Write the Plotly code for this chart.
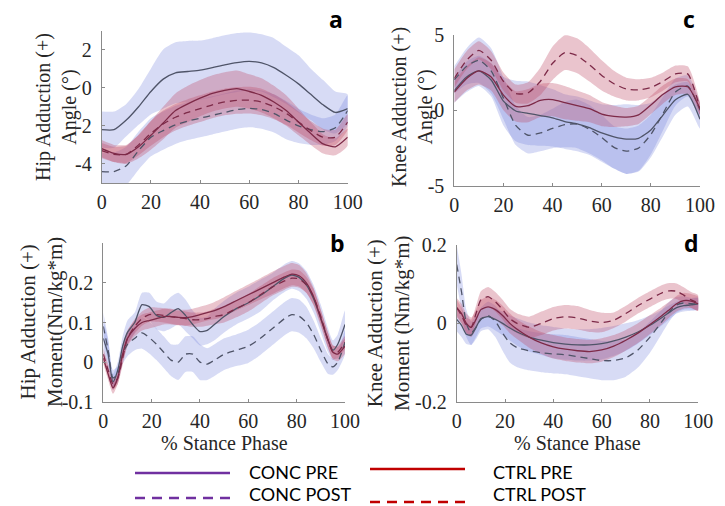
import plotly.graph_objects as go

W, H = 725, 506

# ---------------- data ----------------
# Panel a: hip adduction angle (deg), 0-100 % stance in steps of 5
X_ANG = [0, 5, 10, 15, 20, 25, 30, 35, 40, 45, 50, 55, 60, 65, 70, 75, 80, 85, 90, 95, 100]

HIP_ANG_CONC_PRE = [-2.2, -2.2, -1.7, -1.0, -0.2, 0.45, 0.78, 0.85, 0.92, 1.05, 1.2, 1.32, 1.38, 1.3, 1.05, 0.65, 0.2, -0.35, -0.9, -1.3, -1.1]
HIP_ANG_CONC_PRE_SD = [0.95, 0.95, 0.85, 0.95, 1.2, 1.55, 1.6, 1.6, 1.55, 1.55, 1.55, 1.55, 1.52, 1.5, 1.55, 1.5, 1.5, 1.35, 1.3, 1.1, 0.75]
HIP_ANG_CONC_POST = [-4.4, -4.4, -4.1, -3.3, -2.6, -2.25, -1.95, -1.75, -1.6, -1.45, -1.3, -1.15, -1.08, -1.15, -1.35, -1.7, -2.0, -2.2, -2.3, -2.1, -1.2]
HIP_ANG_CONC_POST_SD = [1.0, 1.0, 1.0, 1.0, 1.0, 1.0, 1.0, 1.0, 1.0, 1.0, 1.0, 1.0, 1.0, 1.0, 1.0, 1.0, 0.9, 0.8, 0.7, 0.7, 0.8]
HIP_ANG_CTRL_PRE = [-3.2, -3.45, -3.5, -3.1, -2.5, -1.85, -1.2, -0.85, -0.55, -0.3, -0.14, -0.05, -0.2, -0.4, -0.75, -1.2, -1.8, -2.4, -2.95, -3.1, -2.6]
HIP_ANG_CTRL_PRE_SD = [0.45, 0.45, 0.5, 0.6, 0.75, 0.85, 0.9, 0.95, 0.95, 0.95, 0.95, 0.95, 0.9, 0.9, 0.85, 0.8, 0.7, 0.6, 0.5, 0.45, 0.45]
HIP_ANG_CTRL_POST = [-3.3, -3.5, -3.5, -3.0, -2.4, -1.9, -1.55, -1.3, -1.1, -0.9, -0.75, -0.67, -0.65, -0.75, -1.0, -1.35, -1.8, -2.25, -2.6, -2.6, -1.8]
HIP_ANG_CTRL_POST_SD = [0.4, 0.4, 0.45, 0.55, 0.65, 0.7, 0.7, 0.7, 0.7, 0.7, 0.7, 0.7, 0.7, 0.7, 0.65, 0.6, 0.55, 0.5, 0.45, 0.4, 0.4]

# Panel c: knee adduction angle (deg)
KNEE_ANG_CONC_PRE = [1.3, 2.2, 2.6, 2.0, 0.6, -0.05, -0.2, -0.35, -0.5, -0.75, -0.9, -1.15, -1.5, -1.75, -1.9, -1.85, -1.3, -0.3, 0.7, 1.05, -0.6]
KNEE_ANG_CONC_PRE_SD = [0.8, 1.0, 1.0, 1.1, 1.6, 2.0, 2.1, 2.0, 1.9, 1.8, 1.8, 1.8, 1.9, 2.1, 2.3, 2.2, 1.8, 1.4, 1.0, 0.8, 0.6]
KNEE_ANG_CONC_POST = [2.0, 2.9, 3.3, 2.6, 0.8, -1.0, -1.65, -1.5, -1.2, -0.95, -0.9, -1.25, -1.8, -2.45, -2.7, -2.5, -1.6, -0.2, 1.2, 1.6, 0.0]
KNEE_ANG_CONC_POST_SD = [0.9, 1.2, 1.5, 1.5, 1.4, 1.3, 1.2, 1.2, 1.3, 1.5, 1.6, 1.6, 1.5, 1.4, 1.5, 1.5, 1.3, 1.1, 0.9, 0.7, 0.5]
KNEE_ANG_CTRL_PRE = [1.2, 2.1, 2.6, 2.2, 1.0, 0.25, 0.3, 0.65, 0.7, 0.5, 0.3, 0.1, -0.25, -0.4, -0.45, -0.3, 0.35, 1.05, 1.55, 1.55, 0.1]
KNEE_ANG_CTRL_PRE_SD = [0.7, 0.8, 0.9, 0.9, 1.0, 1.0, 1.1, 1.1, 1.1, 1.1, 1.0, 0.9, 0.8, 0.7, 0.6, 0.6, 0.6, 0.6, 0.55, 0.5, 0.4]
KNEE_ANG_CTRL_POST = [2.1, 3.3, 3.95, 3.3, 1.9, 1.1, 1.15, 1.9, 3.1, 3.8, 3.6, 3.0, 2.3, 1.75, 1.4, 1.35, 1.5, 1.9, 2.4, 2.4, 0.1]
KNEE_ANG_CTRL_POST_SD = [0.6, 0.6, 0.6, 0.6, 0.6, 0.6, 0.7, 0.9, 1.1, 1.15, 1.15, 1.1, 1.0, 0.85, 0.75, 0.7, 0.65, 0.6, 0.55, 0.5, 0.4]

# Panel b: hip adduction moment (Nm/kg*m)
X_HIP_MOM = [0, 2, 4, 6, 8, 10, 13, 16, 19, 22, 25, 28, 31, 34, 37, 40, 43, 46, 50, 55, 60, 65, 70, 75, 78, 81, 84, 87, 90, 93, 95, 97, 100]

HIP_MOM_CONC_PRE = [0.06, 0.02, -0.05, -0.02, 0.04, 0.075, 0.1, 0.145, 0.14, 0.118, 0.113, 0.125, 0.135, 0.118, 0.095, 0.077, 0.08, 0.095, 0.115, 0.135, 0.15, 0.168, 0.19, 0.212, 0.22, 0.214, 0.195, 0.16, 0.11, 0.055, 0.03, 0.045, 0.095]
HIP_MOM_CONC_PRE_SD = [0.045, 0.035, 0.02, 0.02, 0.025, 0.03, 0.025, 0.03, 0.035, 0.035, 0.035, 0.04, 0.04, 0.04, 0.035, 0.035, 0.035, 0.04, 0.04, 0.04, 0.04, 0.04, 0.035, 0.035, 0.035, 0.035, 0.035, 0.035, 0.035, 0.03, 0.025, 0.025, 0.035]
HIP_MOM_CONC_POST = [0.09, 0.03, -0.04, -0.03, 0.02, 0.045, 0.06, 0.074, 0.062, 0.045, 0.025, 0.005, 0.0, 0.02, 0.02, 0.0, -0.005, 0.005, 0.02, 0.03, 0.04, 0.06, 0.085, 0.11, 0.12, 0.116, 0.1, 0.07, 0.03, -0.005, -0.012, 0.0, 0.05]
HIP_MOM_CONC_POST_SD = [0.035, 0.03, 0.02, 0.02, 0.025, 0.03, 0.03, 0.04, 0.04, 0.04, 0.04, 0.04, 0.045, 0.045, 0.045, 0.045, 0.04, 0.04, 0.04, 0.04, 0.042, 0.042, 0.042, 0.042, 0.042, 0.042, 0.04, 0.035, 0.03, 0.025, 0.02, 0.02, 0.03]
HIP_MOM_CTRL_PRE = [0.01, -0.03, -0.065, -0.04, 0.02, 0.06, 0.085, 0.1, 0.105, 0.11, 0.115, 0.115, 0.113, 0.112, 0.115, 0.12, 0.125, 0.13, 0.14, 0.155, 0.17, 0.185, 0.2, 0.215, 0.222, 0.218, 0.2, 0.165, 0.11, 0.055, 0.025, 0.02, 0.04]
HIP_MOM_CTRL_PRE_SD = [0.015, 0.015, 0.015, 0.015, 0.02, 0.02, 0.02, 0.02, 0.02, 0.02, 0.02, 0.02, 0.02, 0.02, 0.02, 0.02, 0.02, 0.022, 0.024, 0.025, 0.026, 0.027, 0.028, 0.028, 0.028, 0.027, 0.025, 0.022, 0.02, 0.02, 0.018, 0.018, 0.018]
HIP_MOM_CTRL_POST = [0.02, -0.02, -0.055, -0.04, 0.01, 0.06, 0.09, 0.11, 0.12, 0.12, 0.118, 0.115, 0.112, 0.11, 0.107, 0.107, 0.11, 0.115, 0.12, 0.135, 0.15, 0.17, 0.19, 0.205, 0.212, 0.21, 0.195, 0.165, 0.115, 0.055, 0.025, 0.025, 0.05]
HIP_MOM_CTRL_POST_SD = [0.015, 0.015, 0.015, 0.015, 0.018, 0.018, 0.018, 0.018, 0.018, 0.018, 0.018, 0.018, 0.018, 0.018, 0.018, 0.018, 0.018, 0.02, 0.02, 0.022, 0.022, 0.022, 0.022, 0.022, 0.022, 0.022, 0.02, 0.02, 0.018, 0.018, 0.016, 0.016, 0.016]

# Panel d: knee adduction moment (Nm/kg*m)
X_KNEE_MOM = [0, 2, 4, 6, 8, 10, 13, 16, 19, 22, 25, 30, 35, 40, 45, 50, 55, 60, 65, 70, 75, 80, 85, 88, 91, 94, 97, 100]

KNEE_MOM_CONC_PRE = [0.01, -0.005, -0.028, -0.03, -0.01, 0.012, 0.017, 0.01, 0.0, -0.012, -0.022, -0.035, -0.043, -0.049, -0.053, -0.055, -0.055, -0.052, -0.045, -0.035, -0.022, -0.005, 0.015, 0.028, 0.04, 0.045, 0.047, 0.05]
KNEE_MOM_CONC_PRE_SD = [0.03, 0.03, 0.025, 0.025, 0.025, 0.025, 0.025, 0.028, 0.03, 0.032, 0.035, 0.037, 0.038, 0.04, 0.04, 0.04, 0.04, 0.04, 0.038, 0.035, 0.03, 0.025, 0.02, 0.018, 0.015, 0.015, 0.015, 0.015]
KNEE_MOM_CONC_POST = [0.15, 0.08, 0.0, -0.025, -0.01, 0.01, 0.02, 0.005, -0.025, -0.05, -0.062, -0.07, -0.075, -0.078, -0.08, -0.085, -0.09, -0.095, -0.095, -0.088, -0.068, -0.035, 0.005, 0.03, 0.047, 0.052, 0.05, 0.05]
KNEE_MOM_CONC_POST_SD = [0.05, 0.045, 0.035, 0.03, 0.03, 0.03, 0.035, 0.04, 0.045, 0.05, 0.05, 0.05, 0.05, 0.05, 0.05, 0.05, 0.05, 0.05, 0.05, 0.048, 0.045, 0.04, 0.03, 0.025, 0.02, 0.017, 0.015, 0.015]
KNEE_MOM_CTRL_PRE = [0.04, 0.025, 0.0, -0.01, 0.01, 0.035, 0.042, 0.035, 0.02, 0.0, -0.015, -0.035, -0.05, -0.06, -0.066, -0.07, -0.072, -0.068, -0.058, -0.043, -0.025, -0.003, 0.02, 0.035, 0.05, 0.058, 0.057, 0.05]
KNEE_MOM_CTRL_PRE_SD = [0.025, 0.025, 0.025, 0.025, 0.025, 0.025, 0.025, 0.025, 0.025, 0.025, 0.025, 0.027, 0.028, 0.03, 0.03, 0.03, 0.03, 0.03, 0.028, 0.026, 0.025, 0.024, 0.022, 0.02, 0.02, 0.02, 0.018, 0.018]
KNEE_MOM_CTRL_POST = [0.04, 0.02, -0.005, -0.01, 0.025, 0.06, 0.068, 0.055, 0.035, 0.012, 0.0, -0.01, 0.0, 0.012, 0.017, 0.014, 0.006, 0.002, 0.008, 0.025, 0.045, 0.062, 0.078, 0.083, 0.082, 0.072, 0.06, 0.052]
KNEE_MOM_CTRL_POST_SD = [0.02, 0.02, 0.02, 0.02, 0.02, 0.022, 0.025, 0.025, 0.025, 0.025, 0.025, 0.027, 0.03, 0.03, 0.03, 0.03, 0.028, 0.025, 0.02, 0.02, 0.02, 0.02, 0.02, 0.02, 0.02, 0.02, 0.02, 0.02]

X_TICKS = [0, 20, 40, 60, 80, 100]
LEGEND_LABELS = ["CONC PRE", "CONC POST", "CTRL PRE", "CTRL POST"]

# ---------------- styling ----------------
CONC_LINE = "#4f5468"
CTRL_LINE = "#7d2a48"
CONC_FILL = "rgba(110,125,220,0.28)"
CTRL_FILL = "rgba(190,70,100,0.32)"
SERIF = "Liberation Serif"
TXT = "#262626"
AX = "#8a8a8a"
DASH = "7px,5px"


def px_x(p):
    return p / W


def px_y(p):
    return 1 - p / H


fig = go.Figure()


def add_panel(ax, x, series):
    xa = "x" if ax == 1 else f"x{ax}"
    ya = "y" if ax == 1 else f"y{ax}"
    # shaded +/- SD bands first, then mean curves on top
    for mean, sd, group, dashed in series:
        upper = [m + s for m, s in zip(mean, sd)]
        lower = [m - s for m, s in zip(mean, sd)]
        fig.add_trace(go.Scatter(
            x=list(x) + list(x)[::-1], y=upper + lower[::-1],
            fill="toself", fillcolor=CONC_FILL if group == "CONC" else CTRL_FILL,
            line=dict(width=0, shape="spline", smoothing=0.6),
            mode="lines", hoverinfo="skip", showlegend=False,
            xaxis=xa, yaxis=ya))
    for mean, sd, group, dashed in series:
        fig.add_trace(go.Scatter(
            x=x, y=mean, mode="lines", showlegend=False,
            line=dict(color=CONC_LINE if group == "CONC" else CTRL_LINE,
                      width=1.3, dash=DASH if dashed else "solid",
                      shape="spline", smoothing=0.6),
            xaxis=xa, yaxis=ya))


add_panel(1, X_ANG, [
    (HIP_ANG_CONC_PRE, HIP_ANG_CONC_PRE_SD, "CONC", False),
    (HIP_ANG_CONC_POST, HIP_ANG_CONC_POST_SD, "CONC", True),
    (HIP_ANG_CTRL_PRE, HIP_ANG_CTRL_PRE_SD, "CTRL", False),
    (HIP_ANG_CTRL_POST, HIP_ANG_CTRL_POST_SD, "CTRL", True),
])
add_panel(2, X_HIP_MOM, [
    (HIP_MOM_CONC_PRE, HIP_MOM_CONC_PRE_SD, "CONC", False),
    (HIP_MOM_CONC_POST, HIP_MOM_CONC_POST_SD, "CONC", True),
    (HIP_MOM_CTRL_PRE, HIP_MOM_CTRL_PRE_SD, "CTRL", False),
    (HIP_MOM_CTRL_POST, HIP_MOM_CTRL_POST_SD, "CTRL", True),
])
add_panel(3, X_ANG, [
    (KNEE_ANG_CONC_PRE, KNEE_ANG_CONC_PRE_SD, "CONC", False),
    (KNEE_ANG_CONC_POST, KNEE_ANG_CONC_POST_SD, "CONC", True),
    (KNEE_ANG_CTRL_PRE, KNEE_ANG_CTRL_PRE_SD, "CTRL", False),
    (KNEE_ANG_CTRL_POST, KNEE_ANG_CTRL_POST_SD, "CTRL", True),
])
add_panel(4, X_KNEE_MOM, [
    (KNEE_MOM_CONC_PRE, KNEE_MOM_CONC_PRE_SD, "CONC", False),
    (KNEE_MOM_CONC_POST, KNEE_MOM_CONC_POST_SD, "CONC", True),
    (KNEE_MOM_CTRL_PRE, KNEE_MOM_CTRL_PRE_SD, "CTRL", False),
    (KNEE_MOM_CTRL_POST, KNEE_MOM_CTRL_POST_SD, "CTRL", True),
])


def xaxis(x0, x1, anchor):
    return dict(domain=[px_x(x0), px_x(x1)], anchor=anchor, range=[0, 100],
                tickvals=X_TICKS, ticktext=[str(v) for v in X_TICKS],
                showline=True, linecolor=AX, linewidth=1, ticks="inside",
                ticklen=3, tickcolor=AX, showgrid=False, zeroline=False,
                tickfont=dict(family=SERIF, size=20, color=TXT),
                ticklabelstandoff=1, automargin=False, fixedrange=True)


def yaxis(y_top, y_bot, anchor, rng, vals, texts):
    return dict(domain=[px_y(y_bot), px_y(y_top)], anchor=anchor, range=rng,
                tickvals=vals, ticktext=texts,
                showline=True, linecolor=AX, linewidth=1, ticks="inside",
                ticklen=3, tickcolor=AX, showgrid=False, zeroline=False,
                tickfont=dict(family=SERIF, size=20, color=TXT),
                ticklabelstandoff=5, automargin=False, fixedrange=True)


fig.update_layout(
    width=W, height=H, autosize=False,
    margin=dict(l=0, r=0, t=0, b=0, pad=0, autoexpand=False),
    paper_bgcolor="white", plot_bgcolor="rgba(0,0,0,0)",
    showlegend=False,
    xaxis=xaxis(101.7, 347.7, "y"),
    yaxis=yaxis(30.5, 183, "x", [-5, 3], [-4, -2, 0, 2], ["-4", "-2", "0", "2"]),
    xaxis2=xaxis(103.3, 345, "y2"),
    yaxis2=yaxis(243.3, 401.7, "x2", [-0.1, 0.3], [-0.1, 0, 0.1, 0.2], ["-0.1", "0", "0.1", "0.2"]),
    xaxis3=xaxis(454.3, 700, "y3"),
    yaxis3=yaxis(34.5, 186, "x3", [-5, 5], [-5, 0, 5], ["-5", "0", "5"]),
    xaxis4=xaxis(456.7, 698.3, "y4"),
    yaxis4=yaxis(245, 401.7, "x4", [-0.2, 0.2], [-0.2, 0, 0.2], ["-0.2", "0", "0.2"]),
)

annotations = []


def ann(text, x, y, size, family=SERIF, angle=0, xanchor="center", bold=False, color=TXT, pad=1):
    annotations.append(dict(
        text=f"<b>{text}</b>" if bold else text,
        x=px_x(x), y=px_y(y), xref="paper", yref="paper",
        xanchor=xanchor, yanchor="middle", showarrow=False, textangle=angle,
        borderpad=pad, font=dict(family=family, size=size, color=color)))


# y-axis titles
ann("Hip Adduction (+)<br>Angle (°)", 56, 107, 20, angle=-90)
ann("Hip Adduction (+)<br>Moment(Nm/kg*m)", 41, 322, 21, angle=-90)
ann("Knee Adduction (+)<br>Angle (°)", 412, 107, 20, angle=-90)
ann("Knee Adduction (+)<br>Moment (Nm/kg*m)", 388, 323, 21, angle=-90)

# x-axis titles
ann("% Stance Phase", 224, 443, 20)
ann("% Stance Phase", 577, 443, 20)

# panel letters
for letter, (lx, ly) in zip("abcd", [(336, 19), (337, 243), (689, 19), (691, 243)]):
    ann(letter, lx, ly, 23, family="Open Sans", bold=True, color="#000000")

# legend
LEG_COLORS = ["#7030A0", "#7030A0", "#C00000", "#C00000"]
LEG_DASH = [False, True, False, True]
LEG_LINE_X = [(135, 230), (135, 230), (370, 465), (370, 465)]
LEG_LINE_Y = [473, 498, 469, 502]
LEG_TEXT_X = [248, 248, 492, 492]
LEG_TEXT_Y = [472, 494, 472, 494]

shapes = []
for i, lab in enumerate(LEGEND_LABELS):
    x0, x1 = LEG_LINE_X[i]
    shapes.append(dict(type="line", xref="paper", yref="paper",
                       x0=px_x(x0), x1=px_x(x1), y0=px_y(LEG_LINE_Y[i]), y1=px_y(LEG_LINE_Y[i]),
                       line=dict(color=LEG_COLORS[i], width=2.5,
                                 dash="10px,7px" if LEG_DASH[i] else "solid")))
    ann(lab, LEG_TEXT_X[i], LEG_TEXT_Y[i], 18, family="Lato", xanchor="left", color="#000000", pad=0)

fig.update_layout(annotations=annotations, shapes=shapes)

fig.write_html("out.html")
